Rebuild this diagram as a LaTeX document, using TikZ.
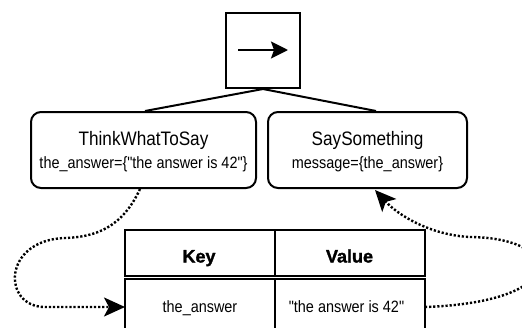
\documentclass[tikz,border=0pt]{standalone}
\usepackage{fontspec}
\setmainfont{Liberation Sans}
\newfontfamily\labelfont[FakeStretch=0.88]{Liberation Sans}
\newfontfamily\headfont[FakeBold=1.5]{Liberation Sans Bold}
\usetikzlibrary{arrows.meta,calc}

\begin{document}
\begin{tikzpicture}[x=1pt,y=-1pt,
  seqbox/.style={draw, line width=2pt, minimum width=74pt, minimum height=75pt, inner sep=0pt},
  taskbox/.style={draw, line width=2pt, rounded corners=10pt, minimum height=76pt, inner sep=0pt},
  cellbox/.style={draw, line width=2pt, minimum width=150pt, inner sep=0pt},
  titletext/.style={font=\labelfont\fontsize{19.5}{22}\selectfont, anchor=base, inner sep=0pt},
  smalltext/.style={font=\labelfont\fontsize{16.4}{19}\selectfont, anchor=base, inner sep=0pt},
  headtext/.style={font=\headfont\fontsize{18}{21}\selectfont, anchor=base, inner sep=0pt},
  tree/.style={line width=2pt},
  flow/.style={line width=2.4pt, dash pattern=on 2.2pt off 1.9pt,
    -{Stealth[length=21pt,width=19pt,inset=5pt]}},
]
\useasboundingbox (0,0) rectangle (522,327);

% sequence node with its arrow symbol
\node[seqbox] (seq) at (263,50.5) {};
\coordinate (arrowL) at (238,50);
\coordinate (arrowR) at (288,50);
\draw[line width=2pt, -{Stealth[length=17pt,width=17pt,inset=3pt]}] (arrowL) -- (arrowR);

% the two child tasks
\node[taskbox, minimum width=225pt] (think) at (143.5,150) {};
\node[taskbox, minimum width=199pt] (say) at (367.5,150) {};
\node[titletext] (thinkTitle) at (143.5,145) {ThinkWhatToSay};
\node[smalltext] (thinkArgs) at (143.5,168) {the\_answer=\{"the answer is 42"\}};
\node[titletext] (sayTitle) at (367.5,145) {SaySomething};
\node[smalltext] (sayArgs) at (367.5,168) {message=\{the\_answer\}};

% tree edges
\draw[tree] (seq.south) -- ([xshift=1.5pt]think.north);
\draw[tree] (seq.south) -- ([xshift=8.5pt]say.north);

% blackboard table
\node[cellbox, minimum height=45.7pt] (keyHead) at (200,252.85) {};
\node[cellbox, minimum height=45.7pt] (valHead) at (350,252.85) {};
\node[cellbox, minimum height=56pt] (keyCell) at (200,307.3) {};
\node[cellbox, minimum height=56pt] (valCell) at (350,307.3) {};
\node[headtext] (keyLabel) at (199,262.5) {Key};
\node[headtext] (valLabel) at (349.5,262.5) {Value};
\node[smalltext] (keyText) at (200,312.3) {the\_answer};
\node[smalltext] (valText) at (346.5,312.3) {"the answer is 42"};

% data flow: write into the blackboard, read back out of it
\coordinate (keyIn) at (125,307);
\coordinate (valOut) at (425,307);
\coordinate (sayIn) at (375,190);
\draw[flow] ([xshift=-3.5pt]think.south)
  .. controls (122,228) and (95,237) .. (65,238)
  .. controls (2,240) and (2,307) .. (45,307)
  -- (keyIn);
\draw[flow] (valOut)
  .. controls (570,302) and (565,238) .. (470,237)
  .. controls (430,235) and (398,215) .. (sayIn);
\end{tikzpicture}
\end{document}
